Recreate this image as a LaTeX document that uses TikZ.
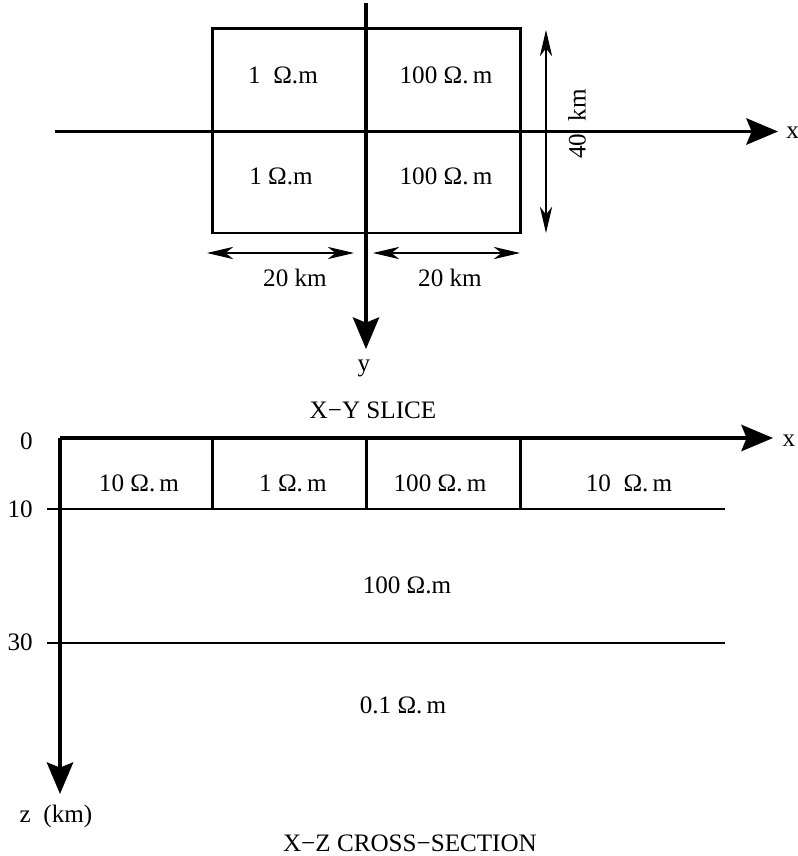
\documentclass[tikz,border=0pt]{standalone}
\usepackage{fontspec}
\setmainfont{Liberation Serif}
\usetikzlibrary{arrows.meta}
\begin{document}
\begin{tikzpicture}[line cap=butt,line join=miter,x=0.02cm,y=-0.02cm,
  axis/.style={line width=2pt,-{Stealth[length=18pt,width=15pt,inset=3pt]}},
  dimarrow/.style={line width=0.6pt,{Stealth[length=15pt,width=7pt,inset=4.5pt]}-{Stealth[length=15pt,width=7pt,inset=4.5pt]}},
  every node/.style={font=\fontsize{14.3}{16}\selectfont,inner sep=0pt}]
\useasboundingbox (0,0) rectangle (798,856);
% X-Y slice
\draw [line width=1.2pt] (212.5,28.5) rectangle (520.5,233);
\coordinate (xa) at (55,131.5);
\coordinate (xb) at (778,131.5);
\coordinate (ya) at (366,3);
\coordinate (yb) at (366,349);
\draw [axis] (xa)-- (xb);
\draw [axis] (ya)-- (yb);
\node [anchor=west] (xlab) at (786,133) {x};
\node (ylab) at (364,368) {y};
\node (r11) at (283,75) {1\enspace Ω.m};
\node (r12) at (446,75) {100 Ω.\,m};
\node (r21) at (281,176) {1 Ω.m};
\node (r22) at (446,176) {100 Ω.\,m};
\coordinate (d1a) at (546,30);
\coordinate (d1b) at (546,233);
\draw [dimarrow] (d1a)-- (d1b);
\node [rotate=90] (dlab1) at (577,124) {40\enspace km};
\coordinate (d2a) at (207,253);
\coordinate (d2b) at (354,253);
\coordinate (d3a) at (373,253);
\coordinate (d3b) at (520,253);
\draw [dimarrow] (d2a)-- (d2b);
\draw [dimarrow] (d3a)-- (d3b);
\node (dlab2) at (295,278) {20 km};
\node (dlab3) at (450,278) {20 km};
\node (title1) at (373,410) {X−Y SLICE};
% X-Z cross-section
\coordinate (o) at (60,438);
\coordinate (xc) at (773,438);
\coordinate (zc) at (60,794);
\draw [line width=1.2pt] (47,509)-- (725,509);
\draw [line width=1.2pt] (47,643)-- (725,643);
\foreach \xx in {212.5,366.5,520.5}
  \draw [line width=1.2pt] (\xx,438)-- (\xx,509);
\draw [axis] (o)-- (xc);
\draw [axis] (o)-- (zc);
\node (xlab2) at (789,441) {x};
\node (zlab) at (56,816) {z\enspace(km)};
\node [anchor=east] (t0) at (33,441) {0};
\node [anchor=east] (t10) at (33,509) {10};
\node [anchor=east] (t30) at (33,642) {30};
\node (c1) at (139,483) {10 Ω.\,m};
\node (c2) at (293,483) {1 Ω.\,m};
\node (c3) at (440,483) {100 Ω.\,m};
\node (c4) at (629,483) {10\enspace Ω.\,m};
\node (c5) at (407,585) {100 Ω.m};
\node (c6) at (403,705) {0.1 Ω.\,m};
\node (title2) at (410,843) {X−Z CROSS−SECTION};
\end{tikzpicture}
\end{document}
